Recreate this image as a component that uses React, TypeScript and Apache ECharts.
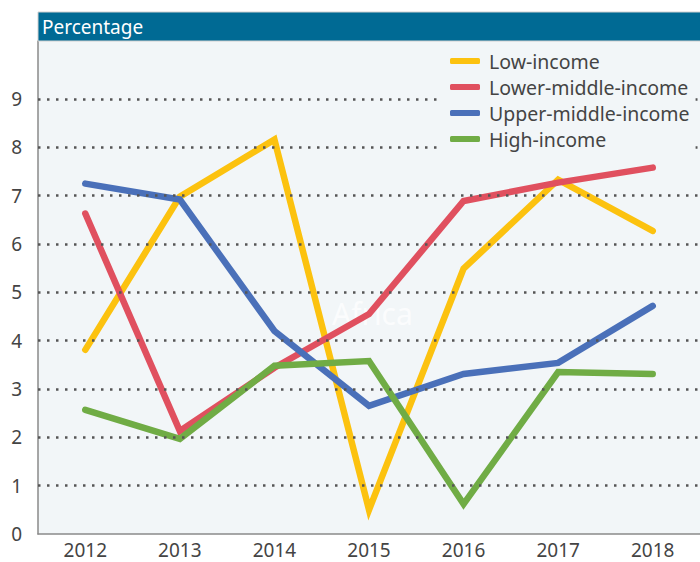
import React, { useEffect, useRef } from "react";
import * as echarts from "echarts";

const years = ["2012", "2013", "2014", "2015", "2016", "2017", "2018"];
const lowIncome = [3.81, 6.98, 8.16, 0.5, 5.49, 7.33, 6.27];
const lowerMiddle = [6.63, 2.13, 3.44, 4.55, 6.89, 7.27, 7.58];
const upperMiddle = [7.25, 6.92, 4.2, 2.65, 3.31, 3.54, 4.72];
const highIncome = [2.57, 1.97, 3.48, 3.58, 0.62, 3.35, 3.31];
const gridValues = [1, 2, 3, 4, 5, 6, 7, 8, 9];

const seriesDefs = [
  { name: "Low-income", data: lowIncome, color: "#fcc20f" },
  { name: "Lower-middle-income", data: lowerMiddle, color: "#e0505f" },
  { name: "Upper-middle-income", data: upperMiddle, color: "#4a70b9" },
  { name: "High-income", data: highIncome, color: "#70ac45" },
];

export default function App() {
  const ref = useRef<HTMLDivElement>(null);
  useEffect(() => {
    if (!ref.current) return;
    const chart = echarts.init(ref.current, null, { renderer: "svg" });
    const font = "'Noto Sans', sans-serif";
    chart.setOption({
      animation: false,
      backgroundColor: "#ffffff",
      textStyle: { fontFamily: font },
      grid: {
        left: 38,
        right: -8,
        top: 41,
        bottom: 28,
        show: true,
        backgroundColor: "#f2f6f8",
        borderWidth: 0,
      },
      graphic: [
        {
          type: "rect",
          shape: { x: 38, y: 12, width: 670, height: 29 },
          style: { fill: "#006a94", stroke: "#d0d0d0", lineWidth: 1 },
          z: 10,
        },
        {
          type: "text",
          x: 42,
          y: 17,
          style: { text: "Percentage", fill: "#ffffff", fontSize: 19, fontFamily: font },
          z: 11,
        },
        {
          type: "text",
          x: 332,
          y: 298,
          style: { text: "Africa", fill: "rgba(255,255,255,0.75)", fontSize: 30, fontFamily: font },
          z: 1,
        },
      ],
      legend: {
        orient: "vertical",
        left: 438,
        top: 47,
        padding: [4, 6, 4, 12],
        backgroundColor: "#f2f6f8",
        icon: "roundRect",
        itemWidth: 30,
        itemHeight: 6,
        itemGap: 6,
        z: 20,
        textStyle: { fontSize: 19.5, color: "#444", fontFamily: font, lineHeight: 20, padding: [0, 0, 0, 4] },
        data: seriesDefs.map((s) => s.name),
      },
      xAxis: {
        type: "category",
        data: years,
        boundaryGap: true,
        axisLine: { show: true, lineStyle: { color: "#8a8a8a", width: 1.5 } },
        axisTick: { show: false },
        axisLabel: { fontSize: 19, color: "#444", margin: 6, lineHeight: 19, fontFamily: font },
        splitLine: { show: false },
      },
      yAxis: {
        type: "value",
        min: 0,
        max: 10.2,
        interval: 1,
        axisLine: { show: true, lineStyle: { color: "#8a8a8a", width: 1.5 } },
        axisTick: { show: false },
        splitLine: { show: false },
        axisLabel: {
          fontSize: 19,
          color: "#444",
          margin: 16,
          fontFamily: font,
          formatter: (v: number) => (v <= 9 && Number.isInteger(v) ? String(v) : ""),
        },
      },
      series: [
        {
          type: "line",
          name: "_grid",
          data: [],
          silent: true,
          markLine: {
            silent: true,
            symbol: "none",
            label: { show: false },
            lineStyle: { type: [2.5, 6.5], color: "#555", width: 2.5 },
            data: gridValues.map((v) => ({ yAxis: v })),
          },
        },
        ...seriesDefs.map((s) => ({
          type: "line",
          name: s.name,
          data: s.data,
          showSymbol: false,
          symbol: "none",
          color: s.color,
          lineStyle: { width: 6.5, color: s.color, cap: "round", join: "miter" },
          itemStyle: { color: s.color },
        })),
      ],
    });
    return () => chart.dispose();
  }, []);
  return (
    <div
      ref={ref}
      style={{ position: "fixed", left: 0, top: 0, width: 700, height: 562 }}
    />
  );
}
